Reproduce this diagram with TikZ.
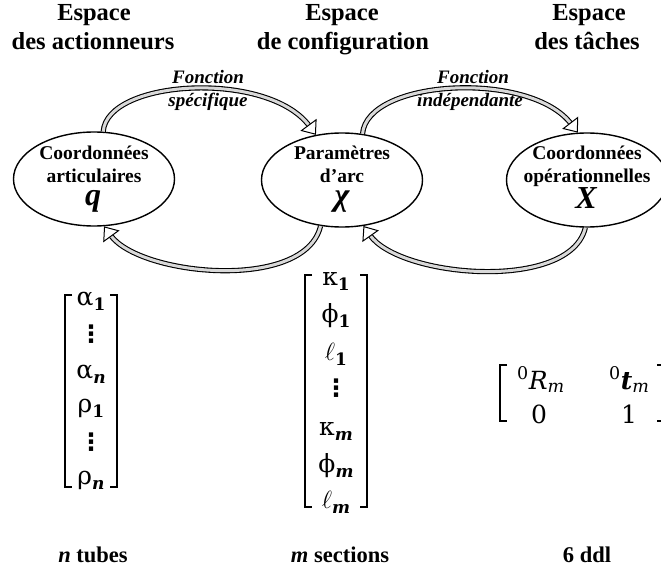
\documentclass[tikz,border=0pt]{standalone}
\usepackage{fontspec}
\setmainfont{Liberation Serif}
\newfontfamily\gfont{DejaVu Serif}
\newfontfamily\dsans{DejaVu Sans}
\usetikzlibrary{shapes.geometric,arrows.meta}
\newcommand\fsz[2]{\fontsize{#1}{#2}\selectfont}
\newcommand\sbb[1]{\raisebox{-5pt}{\fsz{17}{17}\bfseries #1}}
\begin{document}
\begin{tikzpicture}[x=1pt,y=-1pt,
  hd/.style={font=\fsz{24.5}{28}\bfseries, anchor=base, inner sep=0pt},
  fn/.style={font=\fsz{19}{22}\bfseries\itshape, anchor=base, inner sep=0pt},
  ell/.style={draw, ellipse, line width=1.4pt, minimum width=161pt, minimum height=94pt, inner sep=0pt},
  et/.style={font=\fsz{19.5}{23}\bfseries, anchor=base, inner sep=0pt},
  ev/.style={font=\fsz{32}{34}\bfseries\itshape, anchor=base, inner sep=0pt},
  me/.style={font=\fsz{25}{28}\gfont, anchor=base, inner sep=0pt},
  md/.style={font=\fsz{24}{26}\dsans\bfseries, inner sep=0pt},
  rm/.style={font=\fsz{25}{28}\gfont, anchor=base west, inner sep=0pt},
  rc/.style={font=\fsz{25}{28}\gfont, anchor=base, inner sep=0pt},
  bl/.style={font=\fsz{22.5}{26}\bfseries, anchor=base, inner sep=0pt},
  brk/.style={line width=1.6pt},
  shaft/.style={double=gray!30, double distance=3pt, line width=1.1pt, shorten >=11pt},
  tipline/.style={draw=gray!30, line width=0.1pt, -{Triangle[open, length=12.5pt, width=20pt, line width=1pt, color=black, fill=white]}}
]
\useasboundingbox (0,0) rectangle (661,572);
\clip (0,0) rectangle (661,572);

% headings
\node[hd] (h1a) at (94,21) {Espace};
\node[hd] (h1b) at (93,50) {des actionneurs};
\node[hd] (h2a) at (342,21) {Espace};
\node[hd] (h2b) at (343,50) {de configuration};
\node[hd] (h3a) at (589,21) {Espace};
\node[hd] (h3b) at (587,50) {des tâches};

% function labels
\node[fn] (f1a) at (208,84) {Fonction};
\node[fn] (f1b) at (208,107) {spécifique};
\node[fn] (f2a) at (473,84) {Fonction};
\node[fn] (f2b) at (470,107) {indépendante};

% ellipses
\node[ell] (q) at (94,179) {};
\node[ell] (chi) at (342,180) {};
\node[ell] (X) at (587,180) {};

\node[et] (qa) at (94,160) {Coordonnées};
\node[et] (qb) at (94,183) {articulaires};
\node[ev] (qc) at (93,205) {q};
\node[et] (ca) at (342,160) {Paramètres};
\node[et] (cb) at (342,183) {d’arc};
\node[ev] (cc) at (342,206) {χ};
\node[et] (xa) at (587,160) {Coordonnées};
\node[et] (xb) at (587,183) {opérationnelles};
\node[ev] (xc) at (586,208) {X};

% arrows
\draw[shaft] (q.79) .. controls (107,79) and (268,70) .. (chi.120);
\draw[tipline] (q.79) .. controls (107,79) and (268,70) .. (chi.120);
\draw[shaft] (chi.66) .. controls (367,79) and (530,70) .. (X.101);
\draw[tipline] (chi.66) .. controls (367,79) and (530,70) .. (X.101);
\draw[shaft] (chi.245) .. controls (305,292) and (140,276) .. (q.282);
\draw[tipline] (chi.245) .. controls (305,292) and (140,276) .. (q.282);
\draw[shaft] (X.268) .. controls (570,292) and (400,278) .. (chi.295);
\draw[tipline] (X.268) .. controls (570,292) and (400,278) .. (chi.295);

% left matrix
\node[me] (a1) at (91,305) {α\sbb{1}};
\node[md] (d1) at (91,334) {⋮};
\node[me] (an) at (91,378) {α\sbb{\itshape n}};
\node[me] (r1) at (91,412) {ρ\sbb{1}};
\node[md] (d2) at (91,442) {⋮};
\node[me] (rn) at (91,484) {ρ\sbb{\itshape n}};
\draw[brk] (72,295) -- (65,295) -- (65,487) -- (72,487);
\draw[brk] (110,295) -- (117,295) -- (117,487) -- (110,487);

% middle matrix
\node[me] (k1) at (336,285) {κ\sbb{1}};
\node[me] (p1) at (336,322) {ϕ\sbb{1}};
\node[me] (l1) at (336,360) {$\ell$\sbb{1}};
\node[md] (d3) at (336,388) {⋮};
\node[me] (km) at (336,435) {κ\sbb{\itshape m}};
\node[me] (pm) at (336,472) {ϕ\sbb{\itshape m}};
\node[me] (lm) at (336,508) {$\ell$\sbb{\itshape m}};
\draw[brk] (312,275) -- (305,275) -- (305,507) -- (312,507);
\draw[brk] (360,275) -- (367,275) -- (367,507) -- (360,507);

% right matrix
\node[rm] (m11) at (517,389) {\textsuperscript{0}\textit{R}\textsubscript{\textit{m}}};
\node[rm] (m12) at (609,389) {\textsuperscript{0}\textbf{\textit{t}}\textsubscript{\textit{m}}};
\node[rc] (m21) at (539,423) {0};
\node[rc] (m22) at (629,423) {1};
\draw[brk] (507,365) -- (500,365) -- (500,421) -- (507,421);
\draw[brk] (657,365) -- (664,365) -- (664,421) -- (657,421);

% bottom labels
\node[bl] (lb1) at (93,562) {\textit{n} tubes};
\node[bl] (lb2) at (340,562) {\textit{m} sections};
\node[bl] (lb3) at (587,562) {6 ddl};
\end{tikzpicture}
\end{document}
